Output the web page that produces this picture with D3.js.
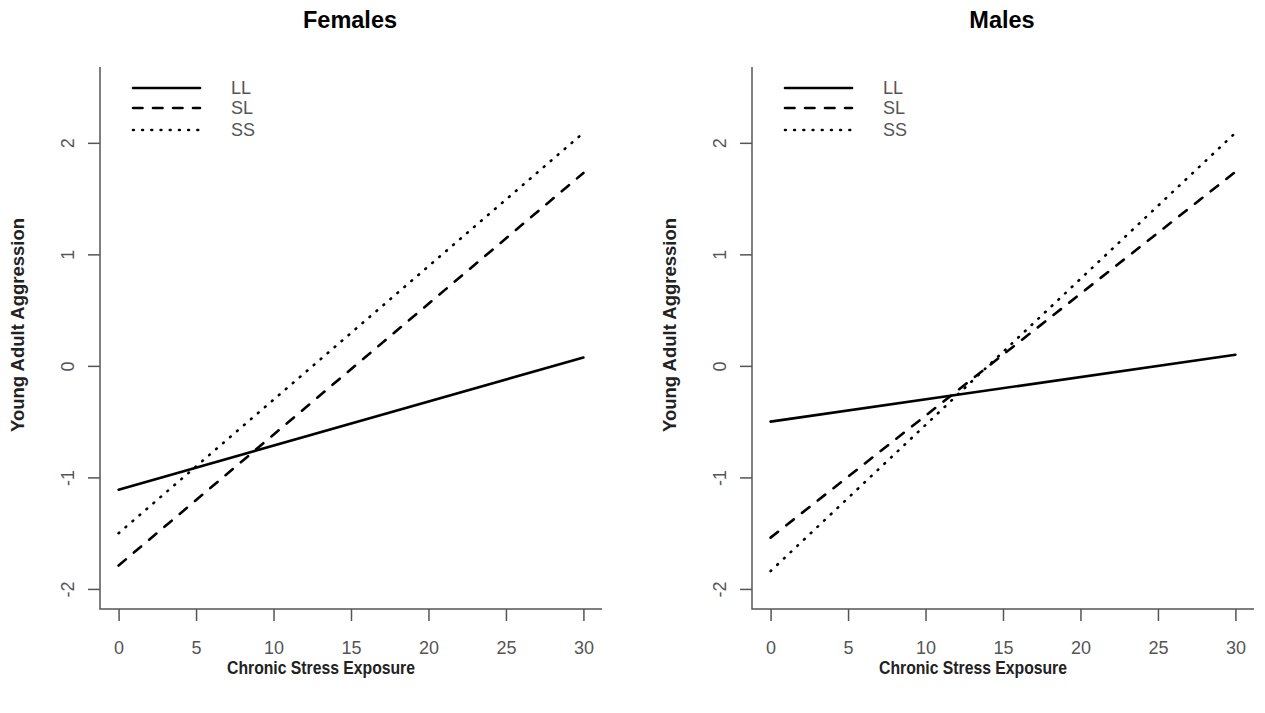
<!DOCTYPE html>
<html><head><meta charset="utf-8">
<script src="https://cdn.jsdelivr.net/npm/d3@7"></script>
<style>
body{margin:0;background:#fff;}
svg{display:block;}
</style></head>
<body>
<svg id="chart" width="1265" height="713"></svg>
<script>
const panels = ["Females", "Males"];
const groups = ["LL", "SL", "SS"];
const xEnds = [0, 30];
// values at stress = 0 and stress = 30
const femalesLL = [-1.11, 0.075];
const femalesSL = [-1.79, 1.73];
const femalesSS = [-1.50, 2.09];
const malesLL = [-0.50, 0.10];
const malesSL = [-1.54, 1.74];
const malesSS = [-1.84, 2.09];
const xTicks = [0, 5, 10, 15, 20, 25, 30];
const yTicks = [-2, -1, 0, 1, 2];
const xLabel = "Chronic Stress Exposure";
const yLabel = "Young Adult Aggression";

const panelData = {
  Females: [femalesLL, femalesSL, femalesSS],
  Males: [malesLL, malesSL, malesSS]
};
const dashes = {LL: null, SL: "9.5,10.5", SS: "0.8,8.4"};

const svg = d3.select("#chart");
const plotTop = 67, plotBottom = 609;
const lefts = [100, 752];
const plotW = 502;
const axisColor = "#555";
const tickTextColor = "#555";
const sans = "'Liberation Sans', Arial, sans-serif";

panels.forEach((name, pi) => {
  const left = lefts[pi];
  const x = d3.scaleLinear().domain([-1.2, 31.2]).range([left, left + plotW]);
  const y = d3.scaleLinear().domain([-2.18, 2.68]).range([plotBottom, plotTop]);
  const g = svg.append("g");

  // L-shaped box
  g.append("path")
    .attr("d", `M${left},${plotTop}V${plotBottom}H${left + plotW}`)
    .attr("fill", "none").attr("stroke", axisColor).attr("stroke-width", 1.5);

  // x axis ticks
  const xa = g.append("g").attr("transform", `translate(0,${plotBottom})`)
    .call(d3.axisBottom(x).tickValues(xTicks).tickSize(12).tickPadding(20).tickSizeOuter(0));
  xa.select(".domain").remove();
  xa.selectAll("line").attr("stroke", axisColor).attr("stroke-width", 1.5);
  xa.selectAll("text").attr("fill", tickTextColor).style("font-family", sans).style("font-size", "18px");

  // y axis ticks
  const ya = g.append("g").attr("transform", `translate(${left},0)`)
    .call(d3.axisLeft(y).tickValues(yTicks).tickSize(12).tickSizeOuter(0));
  ya.select(".domain").remove();
  ya.selectAll("line").attr("stroke", axisColor).attr("stroke-width", 1.5);
  ya.selectAll("text").remove();
  ya.selectAll(".tick").append("text")
    .attr("transform", `translate(-32,0) rotate(-90)`)
    .attr("text-anchor", "middle").attr("dy", "0.35em")
    .attr("fill", tickTextColor)
    .style("font-family", sans).style("font-size", "18px")
    .text(d => String(d));

  // lines
  const line = d3.line().x(d => x(d[0])).y(d => y(d[1]));
  panelData[name].forEach((vals, i) => {
    const pts = xEnds.map((xv, k) => [xv, vals[k]]);
    g.append("path").datum(pts)
      .attr("d", line)
      .attr("fill", "none").attr("stroke", "#000").attr("stroke-width", 2.6)
      .attr("stroke-linecap", "round")
      .attr("stroke-dasharray", dashes[groups[i]]);
  });

  // legend
  const lx0 = left + 33, lx1 = left + 100, ltx = left + 131;
  const ly = [88, 108, 130];
  groups.forEach((gname, i) => {
    g.append("line").attr("x1", lx0).attr("x2", lx1).attr("y1", ly[i]).attr("y2", ly[i])
      .attr("stroke", "#000").attr("stroke-width", 2.6).attr("stroke-linecap", "round")
      .attr("stroke-dasharray", dashes[gname]);
    g.append("text").attr("x", ltx).attr("y", ly[i]).attr("dy", "0.35em")
      .attr("fill", tickTextColor)
      .style("font-family", sans).style("font-size", "18px")
      .text(gname);
  });

  // title
  g.append("text").attr("x", left + plotW / 2 - 1).attr("y", 28)
    .attr("text-anchor", "middle").attr("fill", "#000")
    .style("font-family", sans)
    .style("font-weight", "bold").style("font-size", "23.5px")
    .text(name);

  // x label
  g.append("text")
    .attr("transform", `translate(${left + 221},674) scale(0.9,1)`)
    .attr("text-anchor", "middle").attr("fill", "#222")
    .style("font-family", sans)
    .style("font-weight", "bold").style("font-size", "17.5px")
    .text(xLabel);

  // y label
  g.append("text")
    .attr("transform", `translate(${left - 82},${325}) rotate(-90)`)
    .attr("text-anchor", "middle").attr("dy", "0.35em").attr("fill", "#222")
    .style("font-family", sans)
    .style("font-weight", "bold").style("font-size", "18.5px")
    .text(yLabel);
});
</script>
</body></html>
